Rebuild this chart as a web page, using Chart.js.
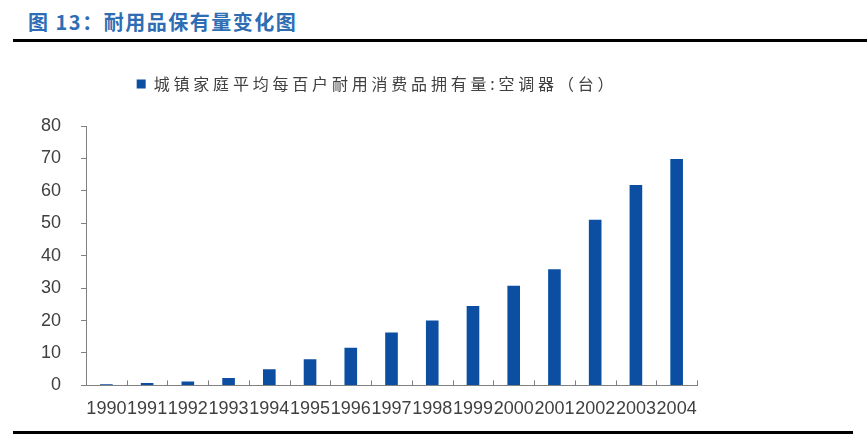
<!DOCTYPE html>
<html><head><meta charset="utf-8">
<script src="https://cdn.jsdelivr.net/npm/chart.js@4/dist/chart.umd.min.js"></script>
<style>
html,body{margin:0;padding:0;background:#fff;width:867px;height:434px;overflow:hidden;position:relative;}
#title{position:absolute;left:28px;top:7px;font-family:"Noto Sans CJK SC","Noto Sans";font-weight:bold;font-size:20px;color:#2E6DB4;line-height:30px;letter-spacing:1.5px;}
#rule1{position:absolute;left:13px;top:39px;width:854px;height:3px;background:#000;}
#rule2{position:absolute;left:13px;top:431px;width:840px;height:3px;background:#000;}
#wrap{position:absolute;left:0;top:50px;width:742px;height:384px;}
</style></head><body>
<div id="title">图 13：耐用品保有量变化图</div>
<div id="rule1"></div>
<div id="wrap"><canvas id="c"></canvas></div>
<div id="rule2"></div>
<script>
const years = ['1990','1991','1992','1993','1994','1995','1996','1997','1998','1999','2000','2001','2002','2003','2004'];
const acPer100 = [0.34,0.71,1.19,2.28,5.0,8.09,11.61,16.29,20.01,24.48,30.76,35.79,51.1,61.79,69.81];
const seriesName = '城镇家庭平均每百户耐用消费品拥有量:空调器（台）';

const legendTweak = {
  id:'legendTweak',
  beforeInit(chart){
    const lg = chart.legend, ctx = chart.ctx;
    const fit = lg.fit, draw = lg.draw;
    lg.fit = function(){ ctx.save(); ctx.letterSpacing = '3.8px'; fit.call(lg); ctx.restore(); this.height += 24; };
    lg.draw = function(){ ctx.save(); ctx.letterSpacing = '3.8px'; ctx.translate(18, 0); draw.call(lg); ctx.restore(); };
  }
};
const innerTicks = {
  id:'innerTicks',
  afterDraw(chart){
    const s = chart.scales.x, ctx = chart.ctx;
    const n = years.length, w = (s.right - s.left)/n;
    ctx.save(); ctx.strokeStyle = '#808080'; ctx.lineWidth = 1;
    for(let i=1;i<=n;i++){
      const x = Math.round(s.left + i*w) + 0.5;
      ctx.beginPath(); ctx.moveTo(x, s.top); ctx.lineTo(x, s.top - 5); ctx.stroke();
    }
    ctx.restore();
  }
};

new Chart(document.getElementById('c'), {
  type:'bar',
  data:{ labels: years, datasets:[{ label: seriesName, data: acPer100, backgroundColor:'#0B4EA2', barPercentage:0.31, categoryPercentage:1.0 }]},
  options:{
    responsive:true, maintainAspectRatio:false, animation:false,
    layout:{ padding:{ left:21, right:45, top:22, bottom:1 } },
    plugins:{
      legend:{ display:true, position:'top', labels:{ boxWidth:9, boxHeight:9, padding:4, color:'#404040', font:{ family:'"Noto Sans CJK SC"', size:16 } } },
      tooltip:{ enabled:false }
    },
    scales:{
      x:{
        grid:{ display:false, drawOnChartArea:false, drawTicks:false },
        border:{ display:true, color:'#808080', width:1 },
        ticks:{ color:'#404040', padding:13, maxRotation:0, autoSkip:false, font:{ family:'"Liberation Sans"', size:18 } }
      },
      y:{
        min:0, max:80,
        grid:{ drawOnChartArea:false, drawTicks:true, tickLength:5, color:'#808080' },
        border:{ display:true, color:'#808080', width:1 },
        ticks:{ stepSize:10, color:'#404040', padding:20, font:{ family:'"Liberation Sans"', size:18 } }
      }
    }
  },
  plugins:[legendTweak, innerTicks]
});
</script>
</body></html>
